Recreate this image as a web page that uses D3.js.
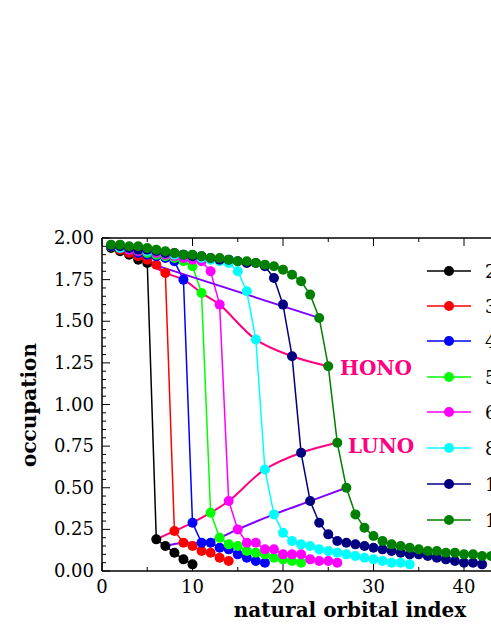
<!DOCTYPE html>
<html><head><meta charset="utf-8">
<script src="https://cdn.jsdelivr.net/npm/d3@7"></script>
<style>body{margin:0;background:#fff}svg{display:block}text{font-family:"DejaVu Serif","Liberation Serif",serif}</style>
</head><body><svg id="c" width="491" height="635"></svg>
<script>
const seriesNames=["2","3","4","5","6","8","10","12"];
const seriesColors=["#000000","#ff0000","#0000ff","#00ff00","#ff00ff","#00ffff","#000080","#008000"];
const s2=[1.94,1.92,1.90,1.87,1.85,0.19,0.15,0.11,0.07,0.04];
const s3=[1.95,1.93,1.91,1.89,1.87,1.84,1.79,0.24,0.17,0.15,0.12,0.11,0.08,0.06];
const s4=[1.95,1.94,1.93,1.91,1.90,1.89,1.88,1.86,1.75,0.29,0.17,0.17,0.14,0.13,0.10,0.08,0.06,0.05];
const s5=[1.95,1.94,1.93,1.92,1.91,1.90,1.89,1.88,1.86,1.83,1.67,0.35,0.20,0.16,0.15,0.12,0.11,0.10,0.08,0.07,0.06,0.05];
const s6=[1.95,1.94,1.93,1.92,1.92,1.91,1.90,1.89,1.88,1.87,1.86,1.80,1.60,0.42,0.25,0.17,0.17,0.13,0.13,0.10,0.10,0.10,0.07,0.06,0.06,0.05];
const s8=[1.95,1.94,1.94,1.93,1.92,1.92,1.91,1.90,1.90,1.89,1.88,1.87,1.86,1.85,1.80,1.68,1.39,0.61,0.34,0.23,0.18,0.16,0.15,0.13,0.12,0.11,0.10,0.09,0.08,0.07,0.06,0.05,0.05,0.04];
const s10=[1.95,1.95,1.94,1.93,1.93,1.92,1.91,1.91,1.90,1.89,1.89,1.88,1.87,1.87,1.86,1.85,1.85,1.83,1.76,1.60,1.29,0.71,0.42,0.29,0.22,0.18,0.17,0.16,0.15,0.14,0.13,0.12,0.11,0.10,0.10,0.09,0.08,0.07,0.06,0.05,0.05,0.04];
const s12=[1.96,1.96,1.95,1.95,1.94,1.93,1.92,1.91,1.90,1.90,1.89,1.88,1.88,1.87,1.86,1.86,1.85,1.84,1.83,1.81,1.78,1.74,1.66,1.52,1.23,0.77,0.50,0.34,0.26,0.21,0.18,0.16,0.15,0.14,0.13,0.12,0.12,0.11,0.11,0.10,0.10,0.09,0.09,0.09,0.08,0.08,0.08,0.07,0.07,0.07];
const seriesValues=[s2,s3,s4,s5,s6,s8,s10,s12];
const honoIndex=[5,7,9,11,13,17,21,25];
const xTicks=[0,10,20,30,40,50];
const yTicks=[0,0.25,0.5,0.75,1,1.25,1.5,1.75,2];

const svg=d3.select("#c");
const x=d3.scaleLinear().domain([0,50]).range([102,554.5]);
const y=d3.scaleLinear().domain([0,2]).range([571,238]);
const L=102,R=600,T=238,B=571;

// frame
svg.append("line").attr("x1",L).attr("x2",R).attr("y1",T).attr("y2",T).attr("stroke","#000").attr("stroke-width",1.5);
svg.append("line").attr("x1",L).attr("x2",R).attr("y1",B).attr("y2",B).attr("stroke","#000").attr("stroke-width",1.5);
svg.append("line").attr("x1",L).attr("x2",L).attr("y1",T).attr("y2",B).attr("stroke","#000").attr("stroke-width",1.5);
// x ticks
const g=svg.append("g").attr("stroke","#000").attr("stroke-width",1);
for(let v=0;v<=50;v+=5){const maj=v%10===0,len=maj?8:4;
 g.append("line").attr("x1",x(v)).attr("x2",x(v)).attr("y1",B).attr("y2",B-len);
 g.append("line").attr("x1",x(v)).attr("x2",x(v)).attr("y1",T).attr("y2",T+len);}
for(let i=0;i<=40;i++){const v=i*0.05,maj=i%5===0,len=maj?8:4;
 g.append("line").attr("x1",L).attr("x2",L+len).attr("y1",y(v)).attr("y2",y(v));}
svg.selectAll(".xt").data(xTicks).enter().append("text").attr("x",d=>x(d)).attr("y",B+22).attr("text-anchor","middle").attr("font-size",18).text(d=>d);
svg.selectAll(".yt").data(yTicks).enter().append("text").attr("x",L-8).attr("y",d=>y(d)+6).attr("text-anchor","end").attr("font-size",18).text(d=>d.toFixed(2));
svg.append("text").attr("x",350).attr("y",617).attr("text-anchor","middle").attr("font-size",20).attr("font-weight","bold").text("natural orbital index");
svg.append("text").attr("transform","translate(36,405) rotate(-90)").attr("text-anchor","middle").attr("font-size",20).attr("font-weight","bold").text("occupation");

const line=d3.line().x(d=>x(d[0])).y(d=>y(d[1]));
seriesValues.forEach((vals,k)=>{
 const pts=vals.map((v,i)=>[i+1,v]);
 svg.append("path").attr("d",line(pts)).attr("fill","none").attr("stroke",seriesColors[k]).attr("stroke-width",1.5);
});
// connector lines
const smooth=d3.line().x(d=>x(d[0])).y(d=>y(d[1])).curve(d3.curveCatmullRom);
const mk=off=>honoIndex.map((h,k)=>[h+off,seriesValues[k][h+off-1]]);
svg.append("path").attr("d",smooth(mk(0))).attr("fill","none").attr("stroke","#ff0080").attr("stroke-width",2);
svg.append("path").attr("d",smooth(mk(1))).attr("fill","none").attr("stroke","#ff0080").attr("stroke-width",2);
svg.append("path").attr("d",line([mk(-1)[0],mk(-1)[7]])).attr("fill","none").attr("stroke","#8000ff").attr("stroke-width",2);
svg.append("path").attr("d",smooth(mk(2))).attr("fill","none").attr("stroke","#8000ff").attr("stroke-width",2);
seriesValues.forEach((vals,k)=>{
 svg.append("g").selectAll("circle").data(vals.map((v,i)=>[i+1,v])).enter().append("circle")
  .attr("cx",d=>x(d[0])).attr("cy",d=>y(d[1])).attr("r",5).attr("fill",seriesColors[k]);
});
svg.append("text").attr("x",340).attr("y",375).attr("font-size",20).attr("font-weight","bold").attr("fill","#ff0080").text("HONO");
svg.append("text").attr("x",348).attr("y",453).attr("font-size",20).attr("font-weight","bold").attr("fill","#ff0080").text("LUNO");
// legend
const ly=[271,306,341,377,412,448,484,520];
seriesNames.forEach((n,k)=>{
 svg.append("line").attr("x1",427).attr("x2",471).attr("y1",ly[k]).attr("y2",ly[k]).attr("stroke",seriesColors[k]).attr("stroke-width",1.5);
 svg.append("circle").attr("cx",449).attr("cy",ly[k]).attr("r",5).attr("fill",seriesColors[k]);
 svg.append("text").attr("x",485).attr("y",ly[k]+7).attr("font-size",18).text(n);
});
</script></body></html>
